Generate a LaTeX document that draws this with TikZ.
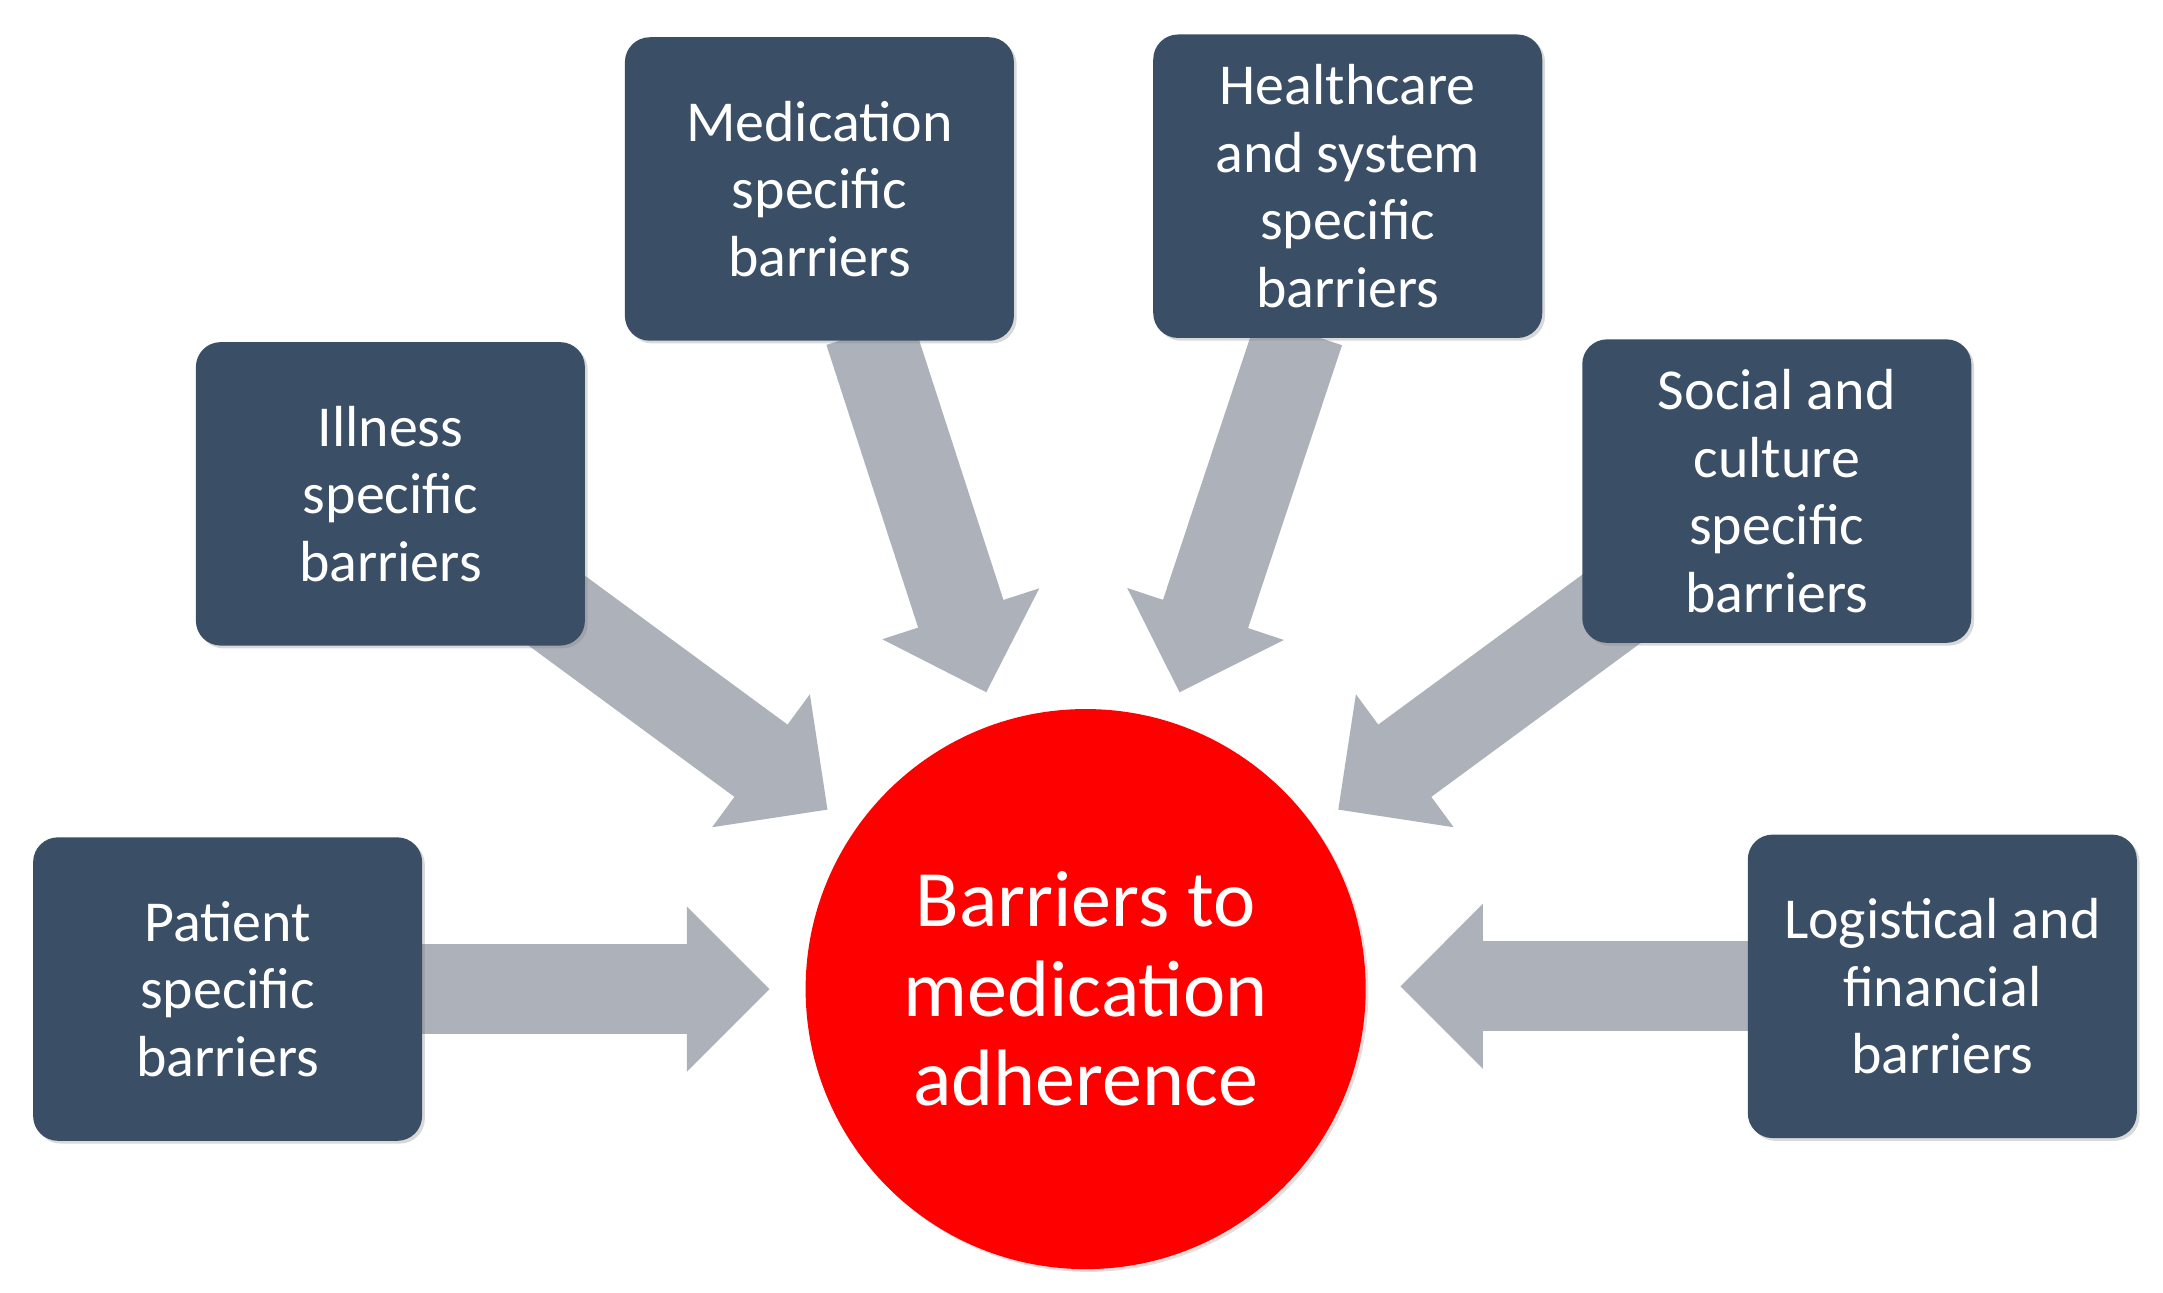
\documentclass[tikz,border=0pt]{standalone}
\usepackage{fontspec}
\setmainfont{Carlito}
\usetikzlibrary{arrows.meta,shadows}
\definecolor{boxc}{HTML}{3A4F66}
\definecolor{arrc}{HTML}{ADB1BA}
\begin{document}
\begin{tikzpicture}[x=0.5pt,y=-0.5pt,
  box/.style={fill=boxc,rounded corners=9pt,minimum width=141pt,minimum height=110pt,
    text=white,align=center,font=\fontsize{21}{24.5}\selectfont,inner sep=0pt,
    drop shadow={shadow xshift=1pt,shadow yshift=-1pt,opacity=0.3}},
  arr/.style={draw=arrc,line width=32.5pt,-{Triangle[length=30pt,width=58pt]},fill=arrc}]
\useasboundingbox (0,0) rectangle (1568,937);
% arrow coordinates
\coordinate (s1) at (300,717); \coordinate (t1) at (558,717);
\coordinate (s2) at (400,440); \coordinate (t2) at (600,587);
\coordinate (s3) at (630,240); \coordinate (t3) at (715,502);
\coordinate (s4) at (942,240); \coordinate (t4) at (855,502);
\coordinate (s5) at (1170,440); \coordinate (t5) at (970,587);
\coordinate (s6) at (1275,715); \coordinate (t6) at (1015,715);
\foreach \i in {1,...,6}{\draw[arr] (s\i) -- (t\i);}
\node[circle,fill=red,minimum size=203pt,inner sep=0pt,text=white,align=center,
  font=\fontsize{29}{32.5}\selectfont,drop shadow={shadow xshift=1pt,shadow yshift=-1pt,opacity=0.25}]
  (c) at (787,717) {Barriers to\\medication\\adherence};
\node[box] (p) at (165,717) {Patient\\specific\\barriers};
\node[box] (i) at (283,358) {Illness\\specific\\barriers};
\node[box] (m) at (594,137) {Medication\\specific\\barriers};
\node[box] (h) at (977,135) {Healthcare\\and system\\specific\\barriers};
\node[box] (s) at (1288,356) {Social and\\culture\\specific\\barriers};
\node[box] (l) at (1408,715) {Logistical and\\financial\\barriers};
\end{tikzpicture}
\end{document}
